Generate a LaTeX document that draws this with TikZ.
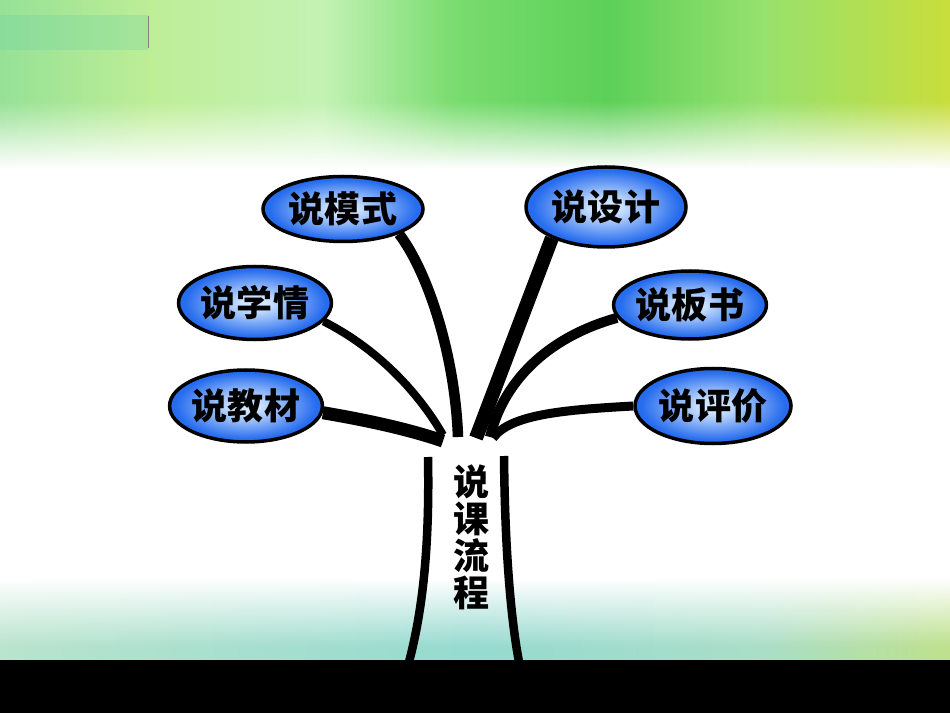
\documentclass[tikz,border=0pt]{standalone}
\usepackage{fontspec}
\newfontfamily\cjk{Noto Sans CJK SC}
\usetikzlibrary{shapes.geometric}
\definecolor{ballin}{RGB}{210,230,255}
\definecolor{ballout}{RGB}{38,108,238}
\definecolor{patch}{RGB}{110,210,165}
\pgfdeclareradialshading{ball}{\pgfpoint{0bp}{0bp}}{color(0bp)=(ballin); color(4bp)=(ballin); color(23bp)=(ballout); color(50bp)=(ballout)}
\pgfdeclarehorizontalshading{sky}{100bp}{color(0bp)=(rgb,255:red,150;green,225;blue,150); color(25bp)=(rgb,255:red,150;green,225;blue,150); color(33bp)=(rgb,255:red,190;green,238;blue,150); color(42bp)=(rgb,255:red,195;green,242;blue,180); color(49bp)=(rgb,255:red,120;green,220;blue,110); color(57bp)=(rgb,255:red,92;green,208;blue,88); color(65bp)=(rgb,255:red,150;green,225;blue,110); color(75bp)=(rgb,255:red,200;green,222;blue,60); color(100bp)=(rgb,255:red,200;green,222;blue,60)}
\pgfdeclarehorizontalshading{ground}{100bp}{color(0bp)=(rgb,255:red,185;green,228;blue,205); color(25bp)=(rgb,255:red,185;green,228;blue,205); color(50bp)=(rgb,255:red,150;green,218;blue,208); color(65bp)=(rgb,255:red,170;green,222;blue,200); color(75bp)=(rgb,255:red,190;green,225;blue,140); color(100bp)=(rgb,255:red,190;green,225;blue,140)}
\begin{document}
\begin{tikzpicture}
[x=0.2mm, y=-0.2mm,
 bubble/.style={ellipse, draw=black, line width=0.7mm, shade, shading=ball, inner sep=0pt,
   font=\cjk\bfseries\fontsize{20.5}{24}\selectfont},
 branch/.style={line width=#1},
 trunk/.style={line width=1.7mm}]
\useasboundingbox (0,0) rectangle (950,713);
\fill[white] (0,0) rectangle (950,713);
\shade[shading=sky] (0,0) rectangle (950,170);
\fill[patch, opacity=0.3] (0,15) rectangle (148,50);
\draw[black!50, thin] (148,16) -- (148,48);
\foreach \i in {0,...,34}
  \fill[white, opacity=\i/34] (0,{100+2*\i}) rectangle (950,{102+2*\i});
\shade[shading=ground] (0,578) rectangle (950,660);
\foreach \i in {0,...,34}
  \fill[white, opacity=1-\i/34] (0,{578+2*\i}) rectangle (950,{580+2*\i});
\fill[black] (0,660) rectangle (950,713);

\node (Moshi) at (343,209) [bubble, minimum width=32mm, minimum height=13mm] {说模式};
\node (Xueqing) at (255,303) [bubble, minimum width=28.8mm, minimum height=14.6mm] {说学情};
\node (Jiaocai) at (246,406) [bubble, minimum width=28.4mm, minimum height=14.4mm] {说教材};
\node (Sheji) at (606,207) [bubble, minimum width=32mm, minimum height=16mm] {说设计};
\node (Banshu) at (690,305) [bubble, minimum width=29.2mm, minimum height=13.6mm] {说板书};
\node (Pingjia) at (713,406) [bubble, minimum width=31.2mm, minimum height=15mm] {说评价};
\node (Liucheng) at (472,537) [align=center, inner sep=0pt,
  font=\cjk\bfseries\fontsize{20.5}{21}\selectfont] {说\\课\\流\\程};

\coordinate (JiaocaiEnd) at (443,441);
\coordinate (XueqingEnd) at (443,435);
\coordinate (MoshiEnd) at (458,437);
\coordinate (ShejiEnd) at (476,438);
\coordinate (BanshuEnd) at (490,437);
\coordinate (PingjiaEnd) at (493,438);
\coordinate (TrunkTopL) at (428,457);
\coordinate (TrunkBotL) at (409,662);
\coordinate (TrunkTopR) at (504,456);
\coordinate (TrunkBotR) at (519,662);

\draw[branch=2.6mm] (Jiaocai.-5) .. controls (360,419) and (405,428) .. (JiaocaiEnd);
\draw[branch=1.6mm] (Xueqing.-15) .. controls (380,350) and (420,395) .. (XueqingEnd);
\draw[branch=2.1mm] (Moshi.-24) .. controls (428,272) and (455,355) .. (MoshiEnd);
\draw[branch=2.8mm] (Sheji.-150) -- (ShejiEnd);
\draw[branch=2mm] (Banshu.-170) .. controls (555,335) and (505,375) .. (BanshuEnd);
\draw[branch=1.8mm] (Pingjia.west) .. controls (560,410) and (510,415) .. (PingjiaEnd);
\draw[trunk] (TrunkTopL) .. controls (430,560) and (420,620) .. (TrunkBotL);
\draw[trunk] (TrunkTopR) .. controls (505,560) and (512,625) .. (TrunkBotR);
\end{tikzpicture}
\end{document}
